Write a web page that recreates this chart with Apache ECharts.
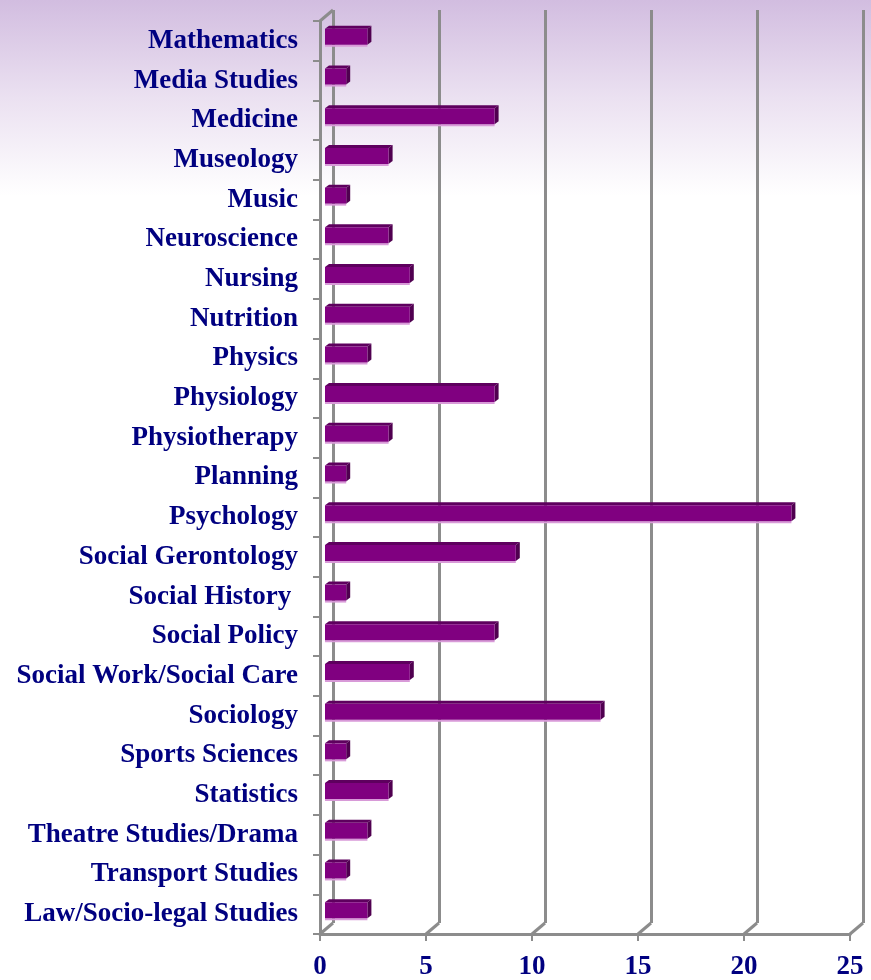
<!DOCTYPE html>
<html>
<head>
<meta charset="utf-8">
<script src="https://cdn.jsdelivr.net/npm/echarts@6/dist/echarts.min.js"></script>
<style>
  html, body { margin: 0; padding: 0; background: #fff; }
  #chart { width: 871px; height: 980px; }
</style>
</head>
<body>
<div id="chart"></div>
<script>
var subjects = [
  'Mathematics', 'Media Studies', 'Medicine', 'Museology', 'Music', 'Neuroscience',
  'Nursing', 'Nutrition', 'Physics', 'Physiology', 'Physiotherapy', 'Planning',
  'Psychology', 'Social Gerontology', 'Social History ', 'Social Policy',
  'Social Work/Social Care', 'Sociology', 'Sports Sciences', 'Statistics',
  'Theatre Studies/Drama', 'Transport Studies', 'Law/Socio-legal Studies'
];
var counts = [2, 1, 8, 3, 1, 3, 4, 4, 2, 8, 3, 1, 22, 9, 1, 8, 4, 13, 1, 3, 2, 1, 2];
var xTicks = [0, 5, 10, 15, 20, 25];

var GRAY = '#8c8c8c';
var NAVY = '#000080';
var FONT = '"Liberation Serif", "Times New Roman", serif';

// 3D-looking bar: front face, dark top and right faces, pale lower edge
function drawBar(params, api) {
  var idx = api.value(0);
  var v = api.value(1);
  var p0 = api.coord([0, idx]);
  var p1 = api.coord([v, idx]);
  var cy = p0[1];
  var x0 = p0[0] + 5, x1 = p1[0] + 5;
  var top = cy - 12, bot = cy + 4;
  var dx = 4, dy = -3;
  return {
    type: 'group',
    children: [
      { type: 'rect', shape: { x: x0, y: bot, width: x1 - x0, height: 2 },
        style: { fill: '#d89ad8' } },
      { type: 'polygon', shape: { points: [[x0, top], [x0 + dx, top + dy], [x1 + dx, top + dy], [x1, top]] },
        style: { fill: '#5e005e' } },
      { type: 'polygon', shape: { points: [[x1, top], [x1 + dx, top + dy], [x1 + dx, bot + dy], [x1, bot]] },
        style: { fill: '#500050' } },
      { type: 'rect', shape: { x: x0, y: top, width: x1 - x0, height: bot - top },
        style: { fill: '#800080' } }
    ]
  };
}

// slanted floor/wall joins between the front axis and the back wall
function drawJoin(params, api) {
  var t = api.value(0);
  var p = api.coord([t, 0]);
  var cs = params.coordSys;
  var yb = cs.y + cs.height;
  var kids = [
    { type: 'line', shape: { x1: p[0], y1: yb, x2: p[0] + 13, y2: yb - 11 },
      style: { stroke: GRAY, lineWidth: 3 } }
  ];
  if (t === 0) {
    kids.push({ type: 'line', shape: { x1: p[0], y1: cs.y, x2: p[0] + 13, y2: cs.y - 11 },
      style: { stroke: GRAY, lineWidth: 3 } });
  }
  return { type: 'group', children: kids };
}

var chart = echarts.init(document.getElementById('chart'));
chart.setOption({
  backgroundColor: new echarts.graphic.LinearGradient(0, 0, 0, 1, [
    { offset: 0, color: '#d2bde0' },
    { offset: 0.1, color: '#ebe1f1' },
    { offset: 0.2, color: '#ffffff' },
    { offset: 1, color: '#ffffff' }
  ]),
  animation: false,
  grid: [
    { left: 320, right: 21, top: 21, bottom: 46, outerBoundsMode: 'none' },
    { left: 333, right: 8, top: 10, bottom: 57, outerBoundsMode: 'none' }
  ],
  xAxis: [
    {
      gridIndex: 0, type: 'value', min: 0, max: 25, interval: 5,
      axisLine: { show: true, lineStyle: { color: GRAY, width: 3 } },
      axisTick: { show: true, length: 7, lineStyle: { color: GRAY, width: 2 } },
      splitLine: { show: false },
      axisLabel: { color: NAVY, fontFamily: FONT, fontWeight: 'bold', fontSize: 27, margin: 20 }
    },
    {
      gridIndex: 1, type: 'value', min: 0, max: 25, interval: 5,
      axisLine: { show: false }, axisTick: { show: false }, axisLabel: { show: false },
      splitLine: { show: true, lineStyle: { color: GRAY, width: 3 } }
    }
  ],
  yAxis: [
    {
      gridIndex: 0, type: 'category', data: subjects, inverse: true,
      axisLine: { show: true, lineStyle: { color: GRAY, width: 3 } },
      axisTick: { show: true, length: 7, lineStyle: { color: GRAY, width: 2 } },
      axisLabel: { color: NAVY, fontFamily: FONT, fontWeight: 'bold', fontSize: 27, margin: 22, interval: 0 }
    },
    {
      gridIndex: 1, type: 'category', data: subjects, inverse: true, show: false
    }
  ],
  series: [
    {
      type: 'custom', xAxisIndex: 0, yAxisIndex: 0, z: 5,
      renderItem: drawBar,
      encode: { x: 1, y: 0 },
      data: counts.map(function (c, i) { return [i, c]; })
    },
    {
      type: 'custom', xAxisIndex: 0, yAxisIndex: 0, z: 3,
      renderItem: drawJoin,
      encode: { x: 0 },
      data: xTicks.map(function (t) { return [t, 0]; })
    }
  ]
});
</script>
</body>
</html>
